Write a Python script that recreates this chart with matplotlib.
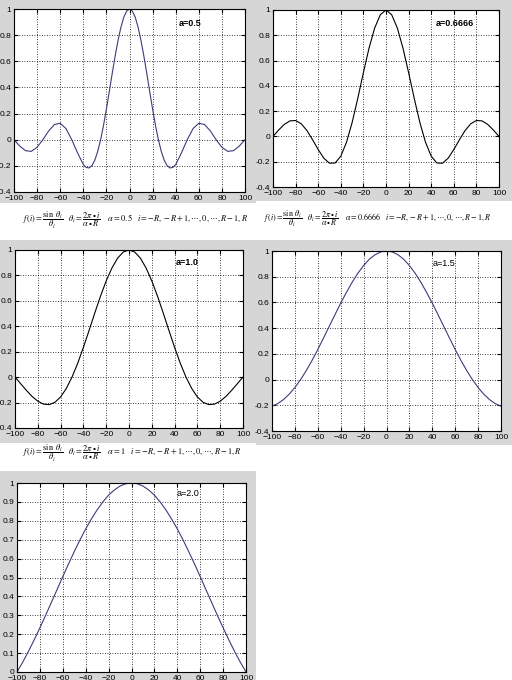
import numpy as np
import matplotlib.pyplot as plt
from matplotlib.patches import Rectangle

plt.rcParams['font.family'] = ['Liberation Sans', 'DejaVu Sans']
plt.rcParams['mathtext.fontset'] = 'stix'

# sample positions i = -R..R (R = 100)
x_pos = [-100, -95, -90, -85, -80, -75, -70, -65, -60, -55, -50, -45, -40, -35, -30, -25, -20, -15, -10, -5,
         0, 5, 10, 15, 20, 25, 30, 35, 40, 45, 50, 55, 60, 65, 70, 75, 80, 85, 90, 95, 100]
# the narrow a=0.5 main lobe is read at a finer step
x_a05 = [-100, -95, -90, -85, -80, -75, -70, -65, -60, -55, -50, -45, -40, -37.5, -35, -32.5, -30, -27.5, -25,
         -22.5, -20, -17.5, -15, -12.5, -10, -7.5, -5, -2.5, 0, 2.5, 5, 7.5, 10, 12.5, 15, 17.5, 20, 22.5, 25,
         27.5, 30, 32.5, 35, 37.5, 40, 45, 50, 55, 60, 65, 70, 75, 80, 85, 90, 95, 100]

# f(i)
y_a05 = [0.00, -0.049, -0.084, -0.089, -0.058, 0.00, 0.067, 0.116, 0.126, 0.085, 0.00, -0.10, -0.19, -0.212,
         -0.216, -0.198, -0.156, -0.089, 0.00, 0.109, 0.234, 0.368, 0.505, 0.637, 0.757, 0.858, 0.936, 0.984,
         1.00, 0.984, 0.936, 0.858, 0.757, 0.637, 0.505, 0.368, 0.234, 0.109, 0.00, -0.089, -0.156, -0.198,
         -0.216, -0.212, -0.19, -0.10, 0.00, 0.085, 0.126, 0.116, 0.067, 0.00, -0.058, -0.089, -0.084, -0.049, 0.00]
y_a0666 = [0.00, 0.051, 0.095, 0.123, 0.126, 0.100, 0.047, -0.026, -0.104, -0.172, -0.212, -0.210, -0.156, -0.047,
           0.109, 0.300, 0.505, 0.699, 0.858, 0.963, 1.00, 0.963, 0.858, 0.699, 0.505, 0.300, 0.109, -0.047, -0.156,
           -0.210, -0.212, -0.172, -0.104, -0.026, 0.047, 0.100, 0.126, 0.123, 0.095, 0.051, 0.00]
y_a10 = [0.00, -0.052, -0.104, -0.152, -0.189, -0.212, -0.216, -0.198, -0.156, -0.089, 0.00, 0.109, 0.234, 0.368,
         0.505, 0.637, 0.757, 0.858, 0.936, 0.984, 1.00, 0.984, 0.936, 0.858, 0.757, 0.637, 0.505, 0.368, 0.234,
         0.109, 0.00, -0.089, -0.156, -0.198, -0.216, -0.212, -0.189, -0.152, -0.104, -0.052, 0.00]
y_a15 = [-0.207, -0.187, -0.156, -0.114, -0.062, 0.00, 0.071, 0.149, 0.234, 0.323, 0.414, 0.505, 0.594, 0.678,
         0.757, 0.827, 0.887, 0.936, 0.971, 0.993, 1.00, 0.993, 0.971, 0.936, 0.887, 0.827, 0.757, 0.678, 0.594,
         0.505, 0.414, 0.323, 0.234, 0.149, 0.071, 0.00, -0.062, -0.114, -0.156, -0.187, -0.207]
y_a20 = [0.00, 0.052, 0.109, 0.170, 0.234, 0.300, 0.368, 0.436, 0.505, 0.572, 0.637, 0.699, 0.757, 0.810, 0.858,
         0.900, 0.936, 0.963, 0.984, 0.996, 1.00, 0.996, 0.984, 0.963, 0.936, 0.900, 0.858, 0.810, 0.757, 0.699,
         0.637, 0.572, 0.505, 0.436, 0.368, 0.300, 0.234, 0.170, 0.109, 0.052, 0.00]

x_ticks = [-100, -80, -60, -40, -20, 0, 20, 40, 60, 80, 100]
y_ticks_a = [-0.4, -0.2, 0, 0.2, 0.4, 0.6, 0.8, 1]
y_labels_a = ['-0.4', '-0.2', '0', '0.2', '0.4', '0.6', '0.8', '1']
y_ticks_b = [0, 0.1, 0.2, 0.3, 0.4, 0.5, 0.6, 0.7, 0.8, 0.9, 1]
y_labels_b = ['0', '0.1', '0.2', '0.3', '0.4', '0.5', '0.6', '0.7', '0.8', '0.9', '1']

W, H = 512, 680
fig = plt.figure(figsize=(W / 100, H / 100), dpi=100)
fig.patch.set_facecolor('white')


def box(l, t, r, b):
    return [l / W, 1 - b / H, (r - l) / W, (b - t) / H]


# grey matlab figure backgrounds
for l, t, r, b in [(0, 0, 256, 203), (256, 0, 512, 201), (0, 240, 256, 443),
                   (256, 240, 512, 445), (0, 471, 256, 680)]:
    fig.patches.append(Rectangle((l / W, 1 - b / H), (r - l) / W, (b - t) / H,
                                 transform=fig.transFigure, facecolor='#d6d6d6',
                                 edgecolor='none', zorder=-5))


def panel(rect, x, y, ylim, yticks, ylabels, color, label, lx, ly, bold):
    ax = fig.add_axes(box(*rect))
    ax.set_zorder(2)
    ax.plot(x, y, color=color, lw=0.8)
    ax.set_xlim(-100, 100)
    ax.set_ylim(*ylim)
    ax.set_xticks(x_ticks)
    ax.set_yticks(yticks)
    ax.set_yticklabels(ylabels)
    ax.grid(True, color='black', linestyle=(0, (1, 2)), lw=0.6)
    ax.tick_params(direction='in', length=3, labelsize=6, pad=2, top=True, right=True)
    ax.text(lx, ly, label, fontsize=6.5, fontweight='bold' if bold else 'normal')
    for s in ax.spines.values():
        s.set_linewidth(0.8)
    return ax


panel((14, 9, 245, 192), x_a05, y_a05, (-0.4, 1), y_ticks_a, y_labels_a, '#3c3c7a', 'a=0.5', 43, 0.87, True)
panel((273, 10, 499, 187), x_pos, y_a0666, (-0.4, 1), y_ticks_a, y_labels_a, 'black', 'a=0.6666', 44, 0.87, True)
panel((15, 250, 243, 428), x_pos, y_a10, (-0.4, 1), y_ticks_a, y_labels_a, 'black', 'a=1.0', 41, 0.88, True)
panel((272, 251, 501, 431), x_pos, y_a15, (-0.4, 1), y_ticks_a, y_labels_a, '#3c3c7a', 'a=1.5', 40, 0.88, False)
panel((17, 483, 246, 672), x_pos, y_a20, (0, 1), y_ticks_b, y_labels_b, '#3c3c7a', 'a=2.0', 39, 0.93, False)

f_part = r'$f\,(i)=\dfrac{\sin\ \theta_i}{\theta_i}\ \ \ \theta_i=\dfrac{2\pi\bullet i}{\alpha\bullet R}\ \ \ \ '
i_part = r'\ \ \ i=-R,-R+1,\cdots,0,\cdots,R-1,R$'
fig.text(22 / W, 1 - 220 / H, f_part + r'\alpha=0.5' + i_part, fontsize=6, va='center')
fig.text(263 / W, 1 - 219 / H, f_part + r'\alpha=0.6666' + i_part, fontsize=5.8, va='center')
fig.text(22 / W, 1 - 453 / H, f_part + r'\alpha=1' + i_part, fontsize=6, va='center')

fig.savefig('out.png', dpi=100)
